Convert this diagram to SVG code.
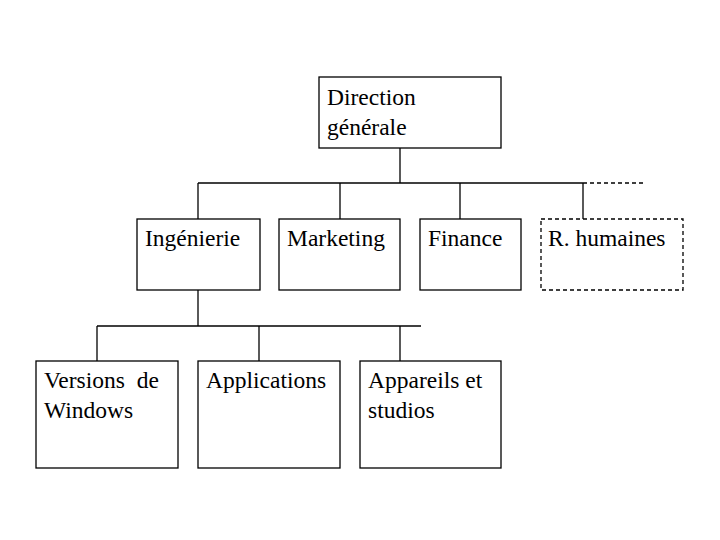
<svg xmlns="http://www.w3.org/2000/svg" width="720" height="540" viewBox="0 0 720 540">
<style>
.box{fill:#fff;stroke:#000;stroke-width:1.3}
.dash{stroke-dasharray:4,3}
.ln{stroke:#000;stroke-width:1.3;fill:none}
.t{font-size:23.5px;fill:#000}
</style>
<rect width="720" height="540" fill="#fff"/>
<g id="connectors">
<line class="ln" x1="400" y1="148" x2="400" y2="183"/>
<line class="ln" x1="198" y1="183" x2="583" y2="183"/>
<line class="ln dash" x1="583" y1="183" x2="643" y2="183"/>
<line class="ln" x1="198" y1="183" x2="198" y2="219"/>
<line class="ln" x1="340" y1="183" x2="340" y2="219"/>
<line class="ln" x1="460" y1="183" x2="460" y2="219"/>
<line class="ln" x1="583" y1="183" x2="583" y2="219"/>
<line class="ln" x1="198" y1="290" x2="198" y2="326"/>
<line class="ln" x1="97" y1="326" x2="421" y2="326"/>
<line class="ln" x1="97" y1="326" x2="97" y2="361"/>
<line class="ln" x1="259" y1="326" x2="259" y2="361"/>
<line class="ln" x1="400" y1="326" x2="400" y2="361"/>
</g>
<g font-family="'Liberation Serif', 'DejaVu Serif', serif">
<g id="direction">
<rect class="box" x="319" y="77" width="182" height="71"/>
<text class="t" x="327" y="105">Direction</text>
<text class="t" x="327" y="135">générale</text>
</g>
<g id="ingenierie">
<rect class="box" x="137" y="219" width="123" height="71"/>
<text class="t" x="145" y="246">Ingénierie</text>
</g>
<g id="marketing">
<rect class="box" x="279" y="219" width="121" height="71"/>
<text class="t" x="287" y="246">Marketing</text>
</g>
<g id="finance">
<rect class="box" x="420" y="219" width="101" height="71"/>
<text class="t" x="428" y="246">Finance</text>
</g>
<g id="rh">
<rect class="box dash" x="541" y="219" width="142" height="71"/>
<text class="t" x="548" y="246">R. humaines</text>
</g>
<g id="versions">
<rect class="box" x="36" y="361" width="142" height="107"/>
<text class="t" x="44" y="388" xml:space="preserve">Versions  de</text>
<text class="t" x="44" y="418">Windows</text>
</g>
<g id="applications">
<rect class="box" x="198" y="361" width="142" height="107"/>
<text class="t" x="206" y="388">Applications</text>
</g>
<g id="appareils">
<rect class="box" x="360" y="361" width="141" height="107"/>
<text class="t" x="368" y="388">Appareils et</text>
<text class="t" x="368" y="418">studios</text>
</g>
</g>
</svg>
